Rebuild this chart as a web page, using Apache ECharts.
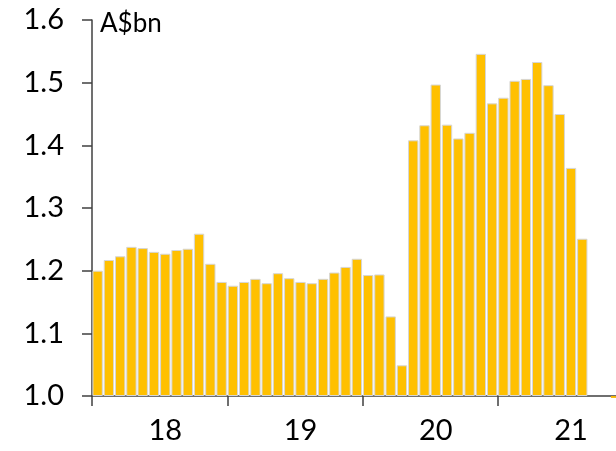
<!DOCTYPE html>
<html>
<head>
<meta charset="utf-8">
<script src="https://cdn.jsdelivr.net/npm/echarts@6/dist/echarts.min.js"></script>
<style>
html,body{margin:0;padding:0;background:#fff;}
#chart{width:616px;height:451px;}
</style>
</head>
<body>
<div id="chart"></div>
<script>
// Monthly categories, Jul 2017 .. Jun 2021
const months = [];
for (let y = 2017; y <= 2021; y++) {
  for (let m = 1; m <= 12; m++) {
    if ((y === 2017 && m < 7) || (y === 2021 && m > 6)) continue;
    months.push(y + '-' + String(m).padStart(2, '0'));
  }
}
const values = [
  1.200, 1.217, 1.223, 1.238, 1.236, 1.230, 1.227, 1.233, 1.235, 1.259, 1.211, 1.182,
  1.176, 1.182, 1.187, 1.180, 1.196, 1.188, 1.182, 1.180, 1.187, 1.197, 1.206, 1.219,
  1.193, 1.194, 1.127, 1.049, 1.408, 1.432, 1.497, 1.433, 1.411, 1.420, 1.546, 1.467,
  1.476, 1.503, 1.506, 1.533, 1.496, 1.450, 1.364, 1.251, null, null, null, null
];
const tailValues = [
  null, null, null, null, null, null, null, null, null, null, null, null,
  null, null, null, null, null, null, null, null, null, null, null, null,
  null, null, null, null, null, null, null, null, null, null, null, null,
  null, null, null, null, null, null, null, null, null, null, 0.997, null
];
const yTicks = [1.0, 1.1, 1.2, 1.3, 1.4, 1.5, 1.6];
const unitLabel = 'A$bn';

const chart = echarts.init(document.getElementById('chart'));
const FONT = 'Lato';
chart.setOption({
  animation: false,
  backgroundColor: '#fff',
  grid: {left: 92, width: 541, top: 20, bottom: 55, containLabel: false, outerBoundsMode: 'none'},
  xAxis: {
    type: 'category',
    data: months,
    boundaryGap: true,
    axisLine: {show: true, lineStyle: {color: '#404040', width: 1.5}},
    axisTick: {
      show: true, length: 10, alignWithLabel: false,
      interval: function (i) { return i % 12 === 0; },
      lineStyle: {color: '#404040', width: 1.5}
    },
    axisLabel: {
      interval: function (i) { return i % 12 === 6; },
      formatter: function (v) { return v.slice(2, 4); },
      fontFamily: FONT, fontSize: 29, color: '#000', margin: 20
    },
    splitLine: {show: false}
  },
  yAxis: {
    type: 'value',
    min: yTicks[0], max: yTicks[yTicks.length - 1], interval: 0.1,
    startValue: 1.0,
    axisLine: {show: true, lineStyle: {color: '#404040', width: 1.5}},
    axisTick: {show: true, length: 10, lineStyle: {color: '#404040', width: 1.5}},
    axisLabel: {
      formatter: function (v) { return v.toFixed(1); },
      fontFamily: FONT, fontSize: 29, color: '#000', margin: 28
    },
    splitLine: {show: false}
  },
  graphic: [{
    type: 'text', left: 100, top: 11,
    style: {text: unitLabel, font: '26px ' + FONT, fill: '#000'}
  }],
  series: [{
    type: 'bar',
    data: values,
    barCategoryGap: '8%',
    itemStyle: {color: '#FFC000', borderColor: '#d6d6d6', borderWidth: 1}
  }, {
    type: 'bar',
    data: tailValues,
    barGap: '-100%',
    clip: false,
    itemStyle: {color: '#F5B400'}
  }]
});
</script>
</body>
</html>
